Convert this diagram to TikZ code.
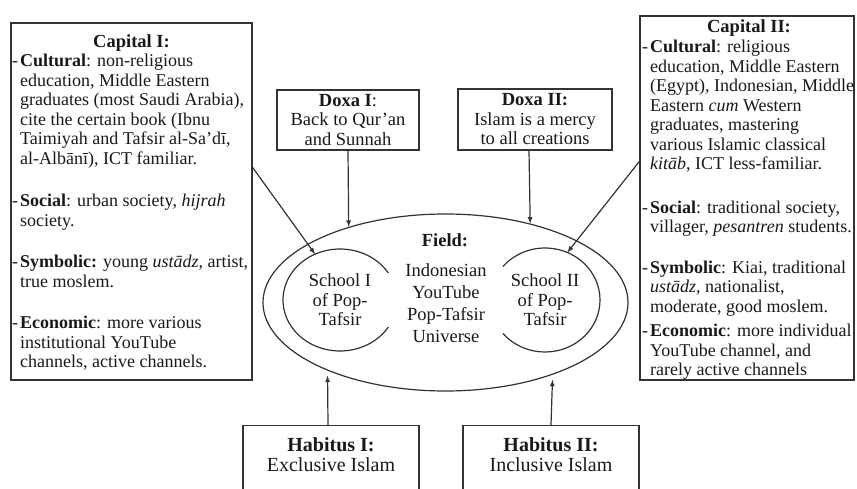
\documentclass[tikz,border=0pt]{standalone}
\usepackage{fontspec}
\setmainfont{Liberation Serif}
\usetikzlibrary{shapes.geometric}

\begin{document}
\begin{tikzpicture}[x=1pt,y=-1pt,text=black!90,
    line/.style={draw=black!80,line width=1.2pt},
    box/.style={line,inner sep=0pt},
    arr/.style={line,-latex},
    body/.style={font=\fontsize{18}{19.5}\selectfont,inner sep=0pt,align=left,anchor=north west},
    head/.style={font=\fontsize{18.5}{19.5}\selectfont\bfseries,inner sep=0pt},
    mid/.style={font=\fontsize{18.5}{19.5}\selectfont,inner sep=0pt,align=center}]
    \useasboundingbox (0,0) rectangle (857,489);
    \clip (0,0) rectangle (857,489);
    % capital I
    \node[box,minimum width=241pt,minimum height=357pt] (cap1) at (131.5,201.5) {};
    \node[head] (cap1t) at (131.5,43) {Capital I:};
    \node[body] (cap1b) at (20,54) {%
        \llap{-\hspace{2pt}}\textbf{Cultural}: non-religious\\
        education, Middle Eastern\\
        graduates (most Saudi Arabia),\\
        cite the certain book (Ibnu\\
        Taimiyah and Tafsir al-Sa’dī,\\
        al-Albānī), ICT familiar.\\[23pt]
        \llap{-\hspace{2pt}}\textbf{Social}: urban society, \textit{hijrah}\\
        society.\\[22pt]
        \llap{-\hspace{2pt}}\textbf{Symbolic:} young \textit{ustādz}, artist,\\
        true moslem.\\[22pt]
        \llap{-\hspace{2pt}}\textbf{Economic}: more various\\
        institutional YouTube\\
        channels, active channels.};
    % capital II
    \node[box,minimum width=214pt,minimum height=364pt] (cap2) at (747,198) {};
    \node[head] (cap2t) at (749,28) {Capital II:};
    \node[body] (cap2b) at (650,40) {%
        \llap{-\hspace{2pt}}\textbf{Cultural}: religious\\
        education, Middle Eastern\\
        (Egypt), Indonesian, Middle\\
        Eastern \textit{cum} Western\\
        graduates, mastering\\
        various Islamic classical\\
        \textit{kitāb}, ICT less-familiar.\\[24pt]
        \llap{-\hspace{2pt}}\textbf{Social}: traditional society,\\
        villager, \textit{pesantren} students.\\[21pt]
        \llap{-\hspace{2pt}}\textbf{Symbolic}: Kiai, traditional\\
        \textit{ustādz}, nationalist,\\
        moderate, good moslem.\\[5pt]
        \llap{-\hspace{2pt}}\textbf{Economic}: more individual\\
        YouTube channel, and\\
        rarely active channels};
    % doxa
    \node[box,mid,minimum width=142pt,minimum height=60pt] (dox1) at (348,120) {\textbf{Doxa I}:\\Back to Qur’an\\and Sunnah};
    \node[box,mid,minimum width=154pt,minimum height=61pt] (dox2) at (535,119.5) {\textbf{Doxa II:}\\Islam is a mercy\\to all creations};
    % field
    \node[box,ellipse,minimum width=365pt,minimum height=177pt] (field) at (445.5,302.5) {};
    \node[head] (fieldt) at (445,240) {Field:};
    \node[mid,font=\fontsize{18.5}{22}\selectfont] (univ) at (446,303) {Indonesian\\YouTube\\Pop-Tafsir\\Universe};
    \node[mid] (sch1) at (340,300) {School I\\of Pop-\\Tafsir};
    \node[mid] (sch2) at (545,300) {School II\\of Pop-\\Tafsir};
    \draw[line] ([shift={(32:57pt and 51pt)}]sch1.center) arc[start angle=32,end angle=328,x radius=57pt,y radius=51pt];
    \draw[line] ([shift={(-140:55pt and 52pt)}]sch2.center) arc[start angle=-140,end angle=140,x radius=55pt,y radius=52pt];
    % habitus
    \node[box,mid,font=\fontsize{20}{20.5}\selectfont,anchor=north,minimum width=176pt,inner ysep=12pt,text depth=60pt] (hab1) at (331,425) {\textbf{Habitus I:}\\Exclusive Islam};
    \node[box,mid,font=\fontsize{20}{20.5}\selectfont,anchor=north,minimum width=176pt,inner ysep=12pt,text depth=60pt] (hab2) at (551,425) {\textbf{Habitus II:}\\Inclusive Islam};
    % arrows
    \draw[arr] ([yshift=-145pt]cap1.north east) -- ([shift={(116:57pt and 51pt)}]sch1.center);
    \draw[arr] ([yshift=-146pt]cap2.north west) -- ([shift={(66:55pt and 52pt)}]sch2.center);
    \draw[arr] (dox1.south) -- (field.142.5);
    \draw[arr] ([xshift=-6pt]dox2.south) -- (field.43.3);
    \draw[arr,shorten >=5pt] ([xshift=-3pt]hab1.north) -- (field.210);
    \draw[arr,shorten >=5pt] (hab2.north) -- (field.-34);
\end{tikzpicture}
\end{document}
